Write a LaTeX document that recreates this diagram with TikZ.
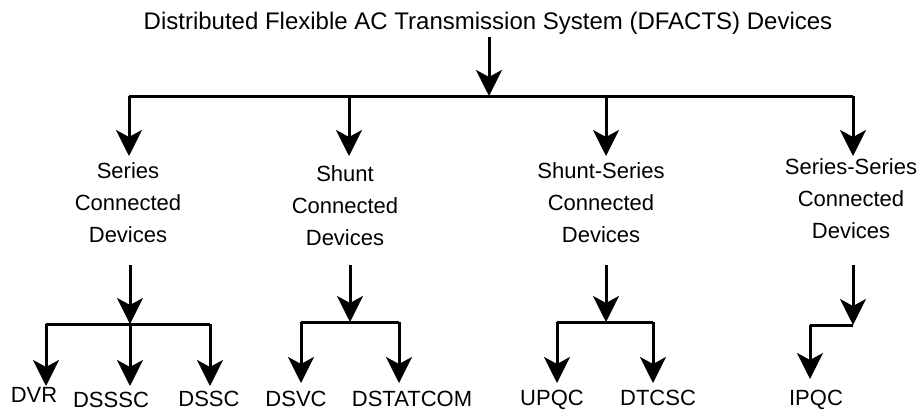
\documentclass[tikz,border=0pt]{standalone}
\usepackage{fontspec}
\setmainfont{Liberation Sans}
\usetikzlibrary{arrows.meta}
\begin{document}
\begin{tikzpicture}[x=1pt,y=-1pt,
  ln/.style={line width=3pt},
  arr/.style={ln,-{Stealth[length=26pt,width=26pt,inset=7pt]}},
  lbl/.style={font=\fontsize{22}{32}\selectfont,align=center,inner sep=0pt,anchor=base},
  leaf/.style={font=\fontsize{22}{26}\selectfont,inner sep=0pt,anchor=base}]
\useasboundingbox (0,0) rectangle (920,410);
\node[inner sep=0pt,anchor=base,font=\fontsize{24}{28}\selectfont] (title) at (488,29) {Distributed Flexible AC Transmission System (DFACTS) Devices};
\coordinate (t0) at (489,37);
\coordinate (b0) at (489,96);
\coordinate (bl) at (129,96);
\coordinate (br) at (853,96);
\coordinate (b2) at (349,96);
\coordinate (b3) at (606,96);
\draw[arr] (t0) -- (b0);
\draw[ln,line join=round] (bl) -- (br);
\coordinate (a1) at (129,156);
\coordinate (a2) at (349,156);
\coordinate (a3) at (606,156);
\coordinate (a4) at (853,156);
\draw[arr] (bl) -- (a1);
\draw[arr] (b2) -- (a2);
\draw[arr] (b3) -- (a3);
\draw[arr] (br) -- (a4);
\node[lbl] (s1) at (128,242) {Series\\Connected\\Devices};
\node[lbl] (s2) at (345,245) {Shunt\\Connected\\Devices};
\node[lbl] (s3) at (601,242) {Shunt-Series\\Connected\\Devices};
\node[lbl] (s4) at (851,238) {Series-Series\\Connected\\Devices};
% series group
\coordinate (u1) at (130,265);
\coordinate (j1) at (130,324);
\coordinate (j1l) at (46,324);
\coordinate (j1r) at (210,324);
\draw[arr] (u1) -- (j1);
\draw[ln] (j1l) -- (j1r);
\coordinate (d11) at (46,386);
\coordinate (d12) at (130,386);
\coordinate (d13) at (210,386);
\draw[arr] (j1l) -- (d11);
\draw[arr] (j1) -- (d12);
\draw[arr] (j1r) -- (d13);
\node[leaf] (dvr) at (34,402) {DVR};
\node[leaf] (dsssc) at (111,407) {DSSSC};
\node[leaf] (dssc) at (209,406) {DSSC};
% shunt group
\coordinate (u2) at (350,265);
\coordinate (j2) at (350,322);
\coordinate (j2l) at (301,322);
\coordinate (j2r) at (399,322);
\draw[arr] (u2) -- (j2);
\draw[ln] (j2l) -- (j2r);
\coordinate (d21) at (301,383);
\coordinate (d22) at (399,383);
\draw[arr] (j2l) -- (d21);
\draw[arr] (j2r) -- (d22);
\node[leaf] (dsvc) at (296,406) {DSVC};
\node[leaf] (dstatcom) at (412,406) {DSTATCOM};
% shunt-series group
\coordinate (u3) at (606,265);
\coordinate (j3) at (606,322);
\coordinate (j3l) at (557,322);
\coordinate (j3r) at (653,322);
\draw[arr] (u3) -- (j3);
\draw[ln] (j3l) -- (j3r);
\coordinate (d31) at (557,383);
\coordinate (d32) at (653,383);
\draw[arr] (j3l) -- (d31);
\draw[arr] (j3r) -- (d32);
\node[leaf] (upqc) at (552,405) {UPQC};
\node[leaf] (dtcsc) at (658,405) {DTCSC};
% series-series group
\coordinate (u4) at (853,265);
\coordinate (j4) at (853,325);
\coordinate (j4l) at (810,325);
\draw[arr] (u4) -- (j4);
\draw[ln] (j4) -- (j4l);
\coordinate (d41) at (810,379);
\draw[arr] (j4l) -- (d41);
\node[leaf] (ipqc) at (816,405) {IPQC};
\end{tikzpicture}
\end{document}
